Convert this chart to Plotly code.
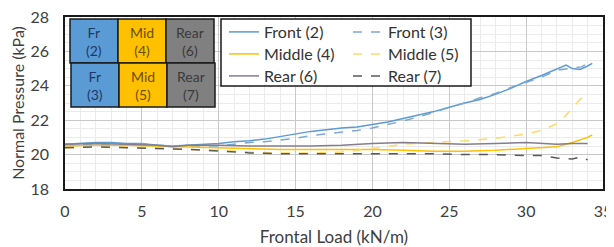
import plotly.graph_objects as go

# ---- data ----
front2_x = [0,1,2,3,4,5,6,7,8,9,10,11,12,13,14,15,16,17,18,19,20,21,22,23,24,25,26,27,28,29,30,31,32,32.6,33,33.5,34,34.3]
front2_y = [20.6,20.65,20.7,20.7,20.65,20.65,20.55,20.5,20.55,20.6,20.65,20.75,20.8,20.9,21.05,21.2,21.35,21.45,21.55,21.6,21.75,21.9,22.1,22.3,22.5,22.75,23.0,23.2,23.5,23.85,24.25,24.6,24.95,25.2,25.0,24.95,25.15,25.3]

front3_x = [0,1,2,3,4,5,6,7,8,9,10,11,12,13,14,15,16,17,18,19,20,21,22,23,24,25,26,27,28,29,30,31,32,33,33.6,34,34.3]
front3_y = [20.55,20.6,20.6,20.6,20.6,20.6,20.55,20.5,20.5,20.5,20.5,20.6,20.7,20.75,20.85,20.95,21.1,21.2,21.3,21.4,21.55,21.75,21.95,22.2,22.45,22.75,23.0,23.3,23.55,23.9,24.2,24.5,24.9,25.05,25.1,25.3,25.45]

mid4_x = [0,2,4,6,8,10,12,14,16,18,20,22,24,26,28,30,31,32,33,33.5,34,34.3]
mid4_y = [20.5,20.55,20.55,20.5,20.45,20.4,20.35,20.3,20.3,20.3,20.3,20.25,20.2,20.2,20.25,20.35,20.4,20.45,20.7,20.85,21.0,21.15]

mid5_x = [0,2,4,6,8,10,12,14,16,18,20,22,24,26,28,30,31,32,32.5,33,33.5,34]
mid5_y = [20.4,20.45,20.45,20.4,20.3,20.25,20.15,20.1,20.1,20.15,20.35,20.6,20.7,20.8,20.95,21.2,21.4,21.8,22.2,22.7,23.2,23.6]

rear6_x = [0,2,4,6,7,8,10,12,14,16,18,20,22,24,26,28,30,32,33,34]
rear6_y = [20.6,20.65,20.6,20.55,20.45,20.55,20.55,20.5,20.5,20.5,20.55,20.65,20.7,20.65,20.6,20.65,20.7,20.6,20.65,20.65]

rear7_x = [0,2,4,6,8,10,12,14,16,18,20,22,24,26,28,30,31,32,33,33.5,34]
rear7_y = [20.4,20.45,20.4,20.35,20.3,20.2,20.1,20.05,20.05,20.05,20.05,20.05,20.05,20.0,20.0,19.95,19.95,19.8,19.75,19.85,19.7]

names = ["Front (2)", "Front (3)", "Middle (4)", "Middle (5)", "Rear (6)", "Rear (7)"]

x_ticks = [0, 5, 10, 15, 20, 25, 30, 35]
y_ticks = [18, 20, 22, 24, 26, 28]

inset_rows = [["Fr<br>(2)", "Mid<br>(4)", "Rear<br>(6)"],
              ["Fr<br>(3)", "Mid<br>(5)", "Rear<br>(7)"]]

# ---- style ----
FONT = "Lato, Carlito, Calibri, sans-serif"
OFF = 8  # page body margin
FW, FH = 614 - OFF, 247 - OFF

# legend slot (screen px): (legend left x, row center y)
series = [
    (front2_x, front2_y, names[0], "#5B9BD5", "solid", (224, 32)),
    (front3_x, front3_y, names[1], "#7FA7CF", "dash", (348, 32)),
    (mid4_x, mid4_y, names[2], "#FFC000", "solid", (224, 54)),
    (mid5_x, mid5_y, names[3], "#FFD966", "dash", (348, 54)),
    (rear6_x, rear6_y, names[4], "#857D8F", "solid", (224, 76)),
    (rear7_x, rear7_y, names[5], "#595959", "dash", (348, 76)),
]

# plot area in screen pixels: x 65..603, y 17..189
L, R, T, B = 65, 603, 17, 189
W, H = R - L, B - T
def px(xp):
    return (xp - L) / W
def py(yp):
    return (B - yp) / H

fig = go.Figure()
legends = {}
for i, (xs, ys, nm, col, dash, (lx, ly)) in enumerate(series):
    key = "legend" if i == 0 else f"legend{i + 1}"
    fig.add_trace(go.Scatter(x=xs, y=ys, name=nm, mode="lines",
                             line=dict(color=col, width=1.5, dash=dash),
                             legend=key))
    legends[key] = dict(x=px(lx), y=py(ly), xanchor="left", yanchor="middle",
                        bgcolor="rgba(0,0,0,0)", borderwidth=0,
                        font=dict(family=FONT, size=16, color="#333333"),
                        itemwidth=30)

shapes = []
annotations = []
cell_cols = ["#5B9BD5", "#FFC000", "#808080"]
txt_cols = ["#1F3864", "#6B4E00", "#3A3A3A"]
col_edges = [70, 118, 166, 214]
row_edges = [(19, 63), (63, 107)]
for r, (y0, y1) in enumerate(row_edges):
    off = 1 if r == 1 else 0
    for c in range(3):
        x0, x1 = col_edges[c] + off, col_edges[c + 1] + off
        shapes.append(dict(type="rect", xref="paper", yref="paper",
                           x0=px(x0), x1=px(x1), y0=py(y1), y1=py(y0),
                           fillcolor=cell_cols[c], line=dict(color="#1a1a1a", width=1.5),
                           layer="above"))
        annotations.append(dict(xref="paper", yref="paper",
                                x=px((x0 + x1) / 2), y=py((y0 + y1) / 2),
                                xanchor="center", yanchor="middle",
                                text=inset_rows[r][c], showarrow=False,
                                font=dict(family=FONT, size=14, color=txt_cols[c]),
                                align="center"))

# legend frame
shapes.append(dict(type="rect", xref="paper", yref="paper",
                   x0=px(221), x1=px(471), y0=py(86), y1=py(19),
                   fillcolor="white", line=dict(color="#1a1a1a", width=1.5),
                   layer="above"))

fig.update_layout(
    width=FW, height=FH,
    margin=dict(l=L - OFF, r=614 - R, t=T - OFF, b=247 - B, autoexpand=False),
    paper_bgcolor="white", plot_bgcolor="white",
    font=dict(family=FONT, size=15, color="#404040"),
    showlegend=True,
    shapes=shapes,
    annotations=annotations,
    xaxis=dict(range=[0, 35], tickvals=x_ticks, ticks="", showgrid=True,
               gridcolor="#C8C8C8", gridwidth=1, automargin=False,
               ticklabeloverflow="allow",
               minor=dict(dtick=1, showgrid=True, gridcolor="#EBEBEB", gridwidth=1),
               showline=True, linecolor="#1a1a1a", linewidth=1.5, mirror=True,
               zeroline=False, ticklabelstandoff=7,
               tickfont=dict(family=FONT, size=16, color="#404040"),
               title=dict(text="Frontal Load (kN/m)", standoff=15,
                          font=dict(family=FONT, size=17, color="#404040"))),
    yaxis=dict(range=[18, 28], tickvals=y_ticks, ticks="", showgrid=True,
               gridcolor="#C8C8C8", gridwidth=1, automargin=False,
               ticklabeloverflow="allow",
               minor=dict(dtick=0.5, showgrid=True, gridcolor="#EBEBEB", gridwidth=1),
               showline=True, linecolor="#1a1a1a", linewidth=1.5, mirror=True,
               zeroline=False, ticklabelstandoff=11,
               tickfont=dict(family=FONT, size=16, color="#404040"),
               title=dict(text="Normal Pressure (kPa)", standoff=8,
                          font=dict(family=FONT, size=16, color="#404040"))),
)
fig.update_layout(**legends)

fig.write_html("out.html")
